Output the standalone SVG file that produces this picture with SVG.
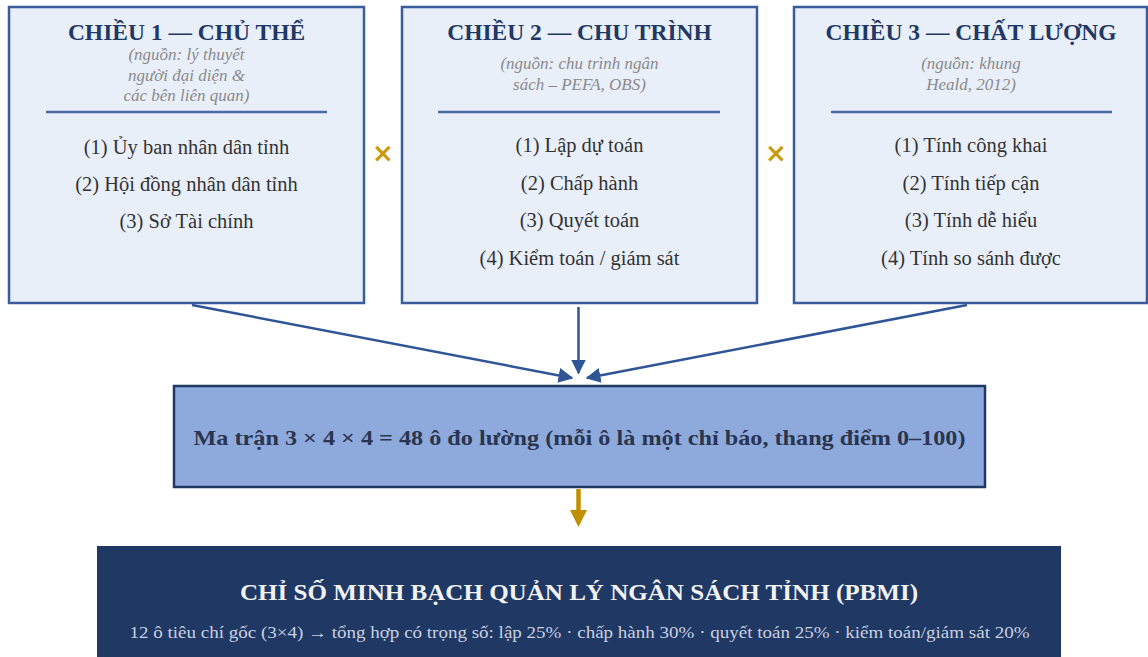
<svg xmlns="http://www.w3.org/2000/svg" width="1148" height="657" viewBox="0 0 1148 657">
  <defs>
    <style>
      .dim rect { fill: #e9eff9; stroke: #3b5c9c; stroke-width: 2.5; }
      .title { font-family: "Liberation Serif", serif; font-weight: bold; font-size: 23.5px; fill: #1f3864; text-anchor: middle; }
      .src { font-family: "Liberation Serif", serif; font-style: italic; font-size: 17px; fill: #8a8a8a; text-anchor: middle; }
      .item { font-family: "Liberation Serif", serif; font-size: 20.5px; fill: #333333; text-anchor: middle; }
      .rule { stroke: #4a6aa8; stroke-width: 2.5; }
      .times { font-family: "DejaVu Sans", sans-serif; font-weight: bold; font-size: 26px; fill: #c89b0a; text-anchor: middle; }
      .link { stroke: #2f5597; stroke-width: 2.5; fill: none; }
    </style>
    <marker id="arrowBlue" viewBox="0 0 10 10" refX="9" refY="5" markerWidth="6" markerHeight="6" markerUnits="strokeWidth" orient="auto">
      <path d="M0,0 L10,5 L0,10 z" fill="#2f5597"/>
    </marker>
  </defs>

  <!-- Dimension 1 -->
  <g id="dim1" class="dim">
    <rect x="9" y="7" width="355" height="296"/>
    <text class="title" x="186.5" y="40">CHIỀU 1 — CHỦ THỂ</text>
    <text class="src" x="186.5" y="60">(nguồn: lý thuyết</text>
    <text class="src" x="186.5" y="80.5">người đại diện &amp;</text>
    <text class="src" x="186.5" y="101">các bên liên quan)</text>
    <line class="rule" x1="46" y1="112" x2="327" y2="112"/>
    <text class="item" x="186.5" y="154">(1) Ủy ban nhân dân tỉnh</text>
    <text class="item" x="186.5" y="191">(2) Hội đồng nhân dân tỉnh</text>
    <text class="item" x="186.5" y="228">(3) Sở Tài chính</text>
  </g>

  <!-- Dimension 2 -->
  <g id="dim2" class="dim">
    <rect x="402" y="7" width="355" height="296"/>
    <text class="title" x="579.5" y="40">CHIỀU 2 — CHU TRÌNH</text>
    <text class="src" x="579.5" y="69">(nguồn: chu trình ngân</text>
    <text class="src" x="579.5" y="90">sách – PEFA, OBS)</text>
    <line class="rule" x1="438" y1="112" x2="720" y2="112"/>
    <text class="item" x="579.5" y="152">(1) Lập dự toán</text>
    <text class="item" x="579.5" y="190">(2) Chấp hành</text>
    <text class="item" x="579.5" y="227">(3) Quyết toán</text>
    <text class="item" x="579.5" y="265">(4) Kiểm toán / giám sát</text>
  </g>

  <!-- Dimension 3 -->
  <g id="dim3" class="dim">
    <rect x="794" y="7" width="353" height="296"/>
    <text class="title" x="971" y="40">CHIỀU 3 — CHẤT LƯỢNG</text>
    <text class="src" x="971" y="69">(nguồn: khung</text>
    <text class="src" x="971" y="90">Heald, 2012)</text>
    <line class="rule" x1="831" y1="112" x2="1112" y2="112"/>
    <text class="item" x="971" y="152">(1) Tính công khai</text>
    <text class="item" x="971" y="190">(2) Tính tiếp cận</text>
    <text class="item" x="971" y="227">(3) Tính dễ hiểu</text>
    <text class="item" x="971" y="265">(4) Tính so sánh được</text>
  </g>

  <!-- Cross-product signs between dimensions -->
  <g id="times">
    <text class="times" x="383" y="162">×</text>
    <text class="times" x="776" y="162">×</text>
  </g>

  <!-- Connectors -->
  <g id="connectors">
    <line class="link" x1="192" y1="305" x2="572" y2="378" marker-end="url(#arrowBlue)"/>
    <line class="link" x1="578.5" y1="307" x2="578.5" y2="373" marker-end="url(#arrowBlue)"/>
    <line class="link" x1="967" y1="305" x2="587" y2="378" marker-end="url(#arrowBlue)"/>
    <line x1="578.5" y1="489" x2="578.5" y2="512" stroke="#c08f00" stroke-width="4.5"/>
    <path d="M570,510 L587,510 L578.5,527 z" fill="#c08f00"/>
  </g>

  <!-- Measurement matrix -->
  <g id="matrix">
    <rect x="174" y="386" width="811" height="101" fill="#8eaadc" stroke="#1f3864" stroke-width="2.5"/>
    <text x="579.5" y="445" font-family="Liberation Serif, serif" font-weight="bold" font-size="22px" fill="#2a3550" text-anchor="middle" textLength="772" lengthAdjust="spacingAndGlyphs">Ma trận 3 × 4 × 4 = 48 ô đo lường (mỗi ô là một chỉ báo, thang điểm 0–100)</text>
  </g>

  <!-- Composite index -->
  <g id="pbmi">
    <rect x="97" y="546" width="964" height="115" fill="#1f3864"/>
    <text x="579" y="600" font-family="Liberation Serif, serif" font-weight="bold" font-size="24px" fill="#f2f2f2" text-anchor="middle" textLength="678" lengthAdjust="spacingAndGlyphs">CHỈ SỐ MINH BẠCH QUẢN LÝ NGÂN SÁCH TỈNH (PBMI)</text>
    <text x="579.5" y="637.5" font-family="Liberation Serif, serif" font-size="16.5px" fill="#c9d0e0" text-anchor="middle" textLength="900" lengthAdjust="spacingAndGlyphs">12 ô tiêu chí gốc (3×4) → tổng hợp có trọng số: lập 25% · chấp hành 30% · quyết toán 25% · kiểm toán/giám sát 20%</text>
  </g>
</svg>
